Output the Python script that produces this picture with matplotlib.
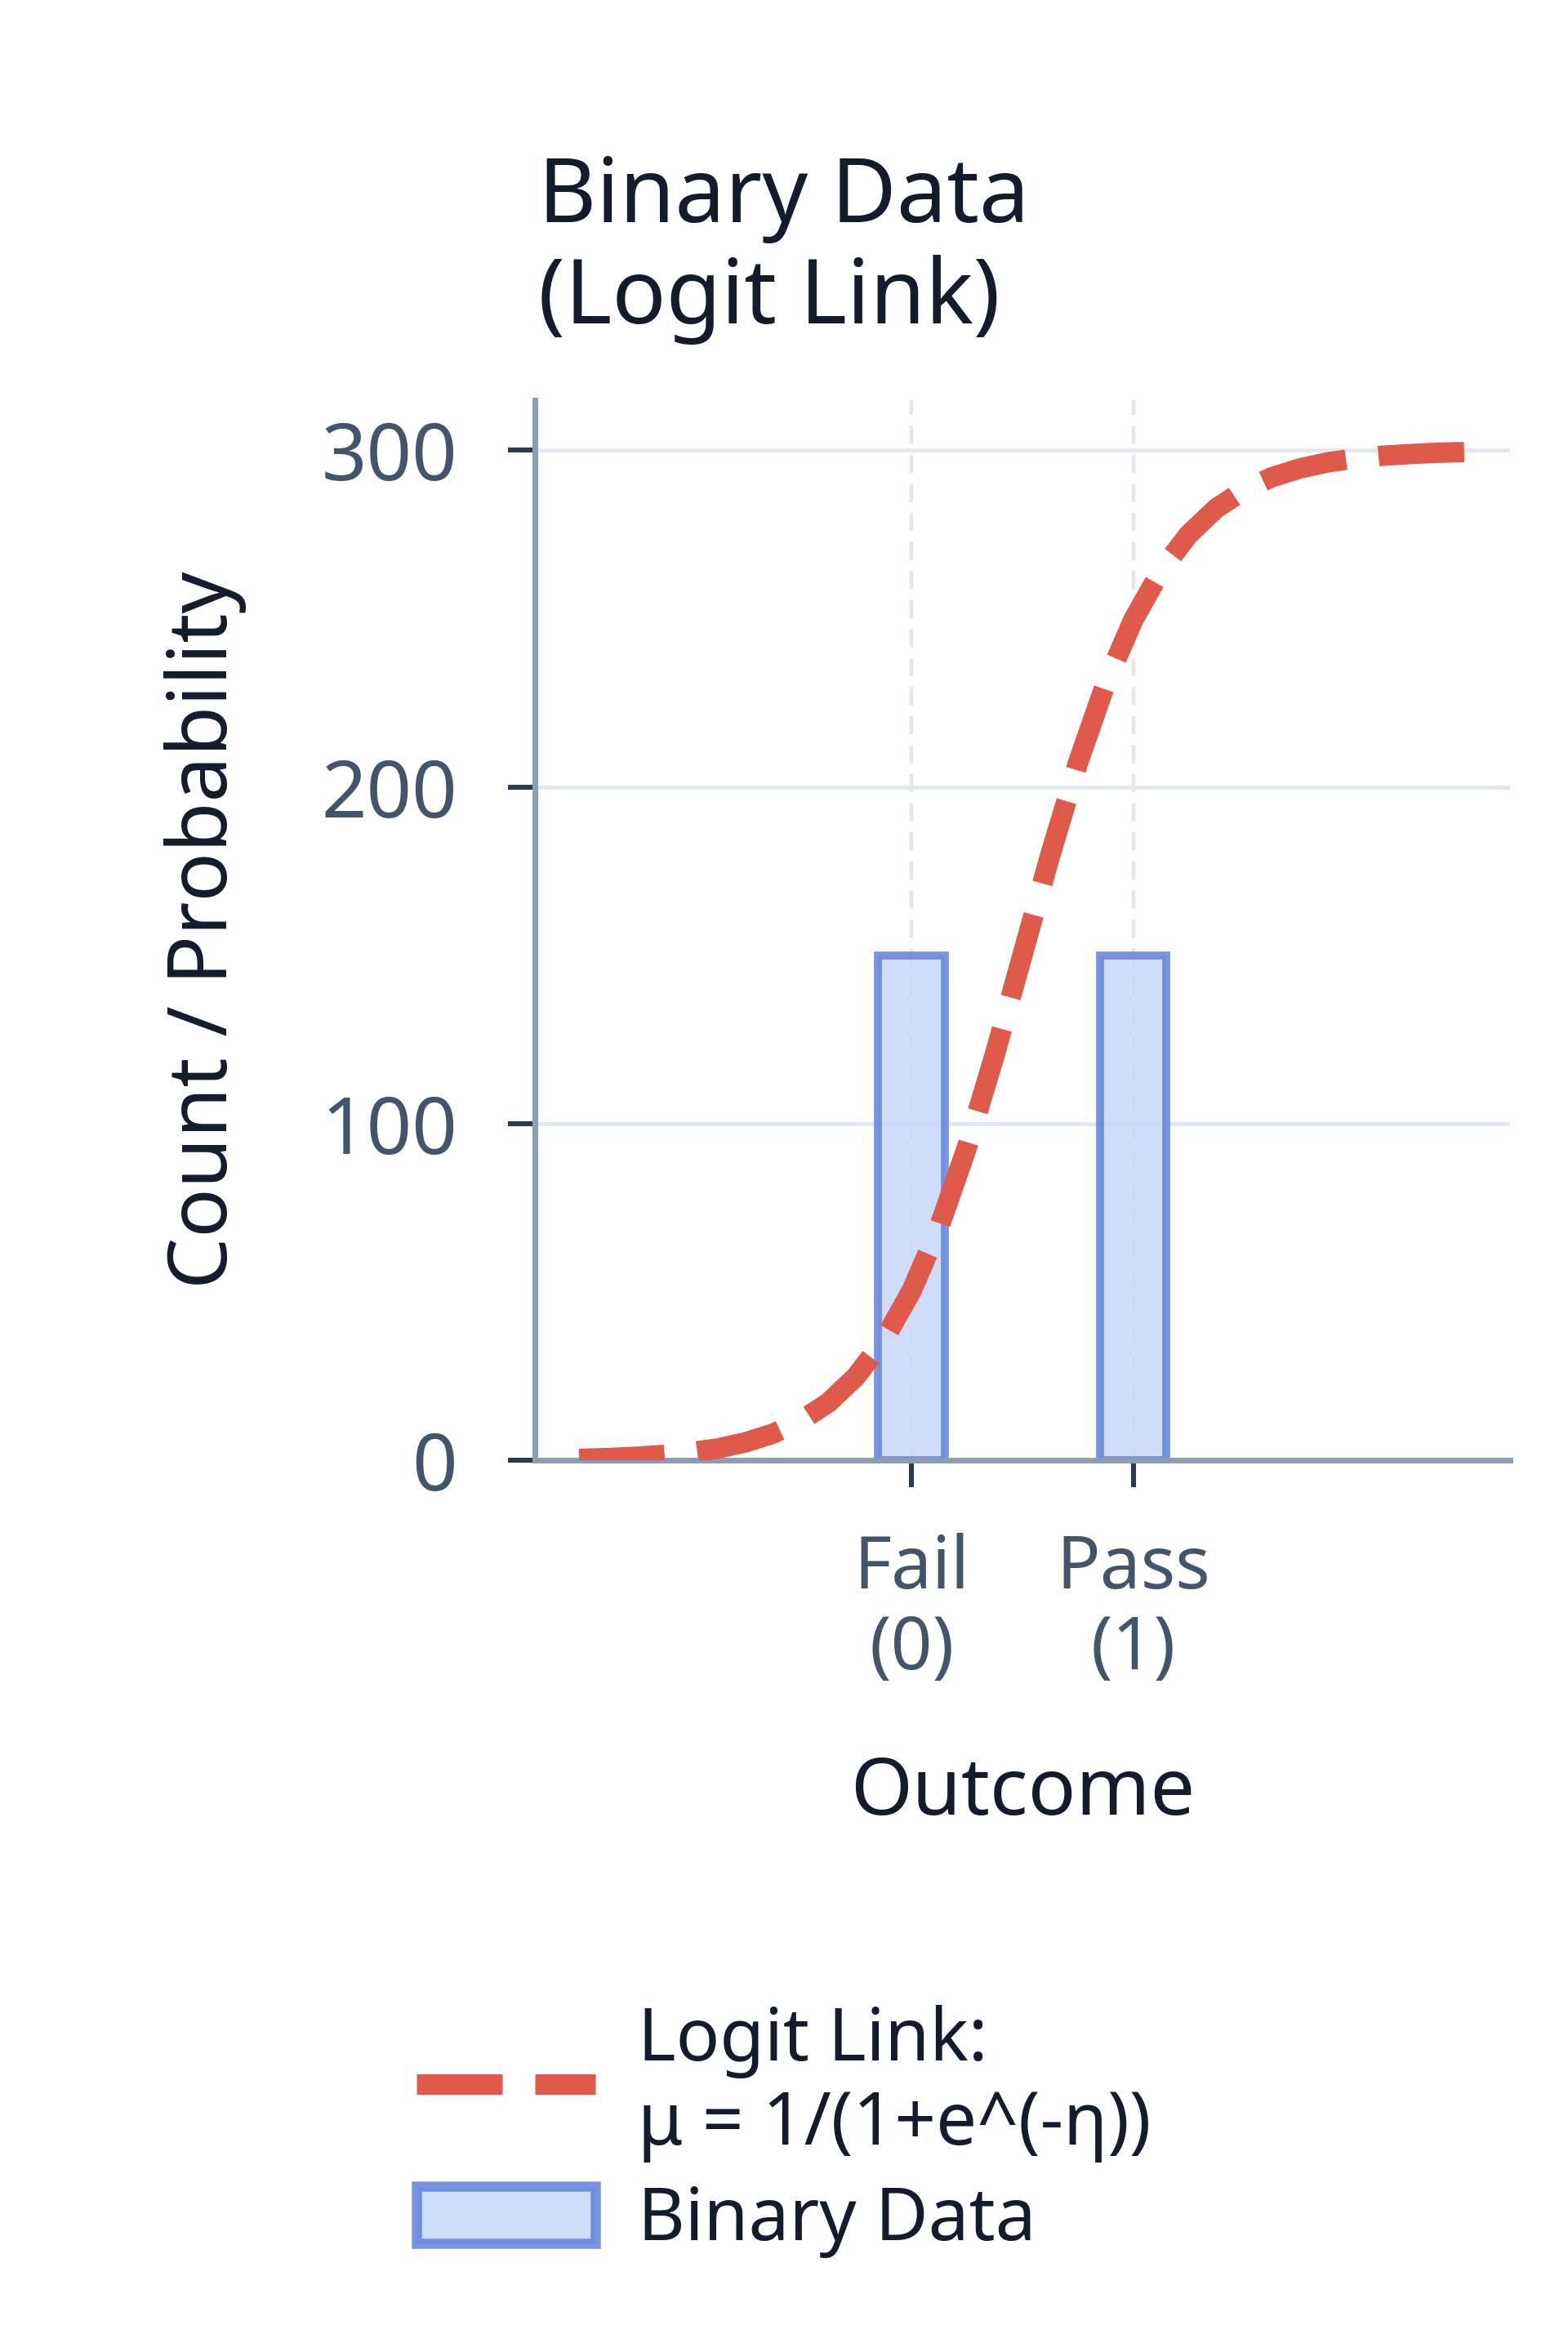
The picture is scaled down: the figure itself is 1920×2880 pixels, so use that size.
import numpy as np
import matplotlib.pyplot as plt

plt.rcParams['font.family'] = ['Noto Sans', 'DejaVu Sans']

# datos
outcomes = [0, 1]
outcome_labels = ["Fail\n(0)", "Pass\n(1)"]
counts = [150, 150]

eta_x = [-1.5, -1.375, -1.25, -1.125, -1.0, -0.875, -0.75, -0.625, -0.5,
         -0.375, -0.25, -0.125, 0.0, 0.125, 0.25, 0.375, 0.5, 0.625, 0.75,
         0.875, 1.0, 1.125, 1.25, 1.375, 1.5, 1.625, 1.75, 1.875, 2.0,
         2.125, 2.25, 2.375, 2.5]
mu_y = [0.5, 0.74, 1.1, 1.65, 2.45, 3.6, 5.4, 8.0, 11.8, 17.2, 25.0, 35.8,
        50.4, 69.4, 93.0, 120.4, 150.0, 179.6, 207.0, 230.6, 249.6, 264.2,
        275.0, 282.8, 288.2, 292.0, 294.6, 296.4, 297.6, 298.4, 298.9,
        299.3, 299.5]

yticks = [0, 100, 200, 300]

axis_col = "#8b9db5"
tick_col = "#2d3b4e"
label_col = "#44546a"
text_col = "#141b2b"
grid_col = "#e3e8f0"
red = "#e05a4b"

fig = plt.figure(figsize=(9.6, 14.4), dpi=200)
ax = fig.add_axes([0.341, 0.379, 0.622, 0.451])

ax.bar(outcomes, counts, width=0.3, facecolor="#c8d7fa", alpha=0.85,
       edgecolor="#6282db", linewidth=3.5, label="Binary Data", zorder=2)
ax.plot(eta_x, mu_y, color=red, linewidth=9, dashes=(4.2, 1.6),
        dash_capstyle="butt", label="Logit Link:\nμ = 1/(1+e^(-η))", zorder=3)

ax.set_xlim(-1.7, 2.7)
ax.set_ylim(0, 315)
ax.set_xticks(outcomes)
ax.set_xticklabels(outcome_labels, linespacing=1.12)
ax.set_yticks(yticks)

ax.yaxis.grid(True, color=grid_col, linewidth=1.8, linestyle="-")
ax.xaxis.grid(True, color=grid_col, linewidth=1.6, linestyle=(0, (5, 3)))
ax.set_axisbelow(True)

for s in ["top", "right"]:
    ax.spines[s].set_visible(False)
for s in ["left", "bottom"]:
    ax.spines[s].set_color(axis_col)
    ax.spines[s].set_linewidth(2.5)

ax.tick_params(axis="both", direction="out", length=12, width=2.2,
               color=tick_col, labelcolor=label_col, labelsize=32)
ax.tick_params(axis="y", pad=22, labelsize=35)
ax.tick_params(axis="x", pad=20)

ax.set_xlabel("Outcome", fontsize=35, color=text_col)
ax.set_ylabel("Count / Probability", fontsize=36, color=text_col)
ax.xaxis.set_label_coords(0.5, -0.2765)
ax.yaxis.set_label_coords(-0.295, 0.5)

fig.text(0.343, 0.9055, "Binary Data", fontsize=39.5, color=text_col,
         ha="left", va="baseline")
fig.text(0.343, 0.8625, "(Logit Link)", fontsize=39.5, color=text_col,
         ha="left", va="baseline")

leg = fig.legend(loc="upper left", bbox_to_anchor=(0.2655, 0.1477),
                 frameon=False, fontsize=32, borderpad=0, borderaxespad=0,
                 handlelength=2.47, handleheight=0.84, handletextpad=0.58,
                 labelspacing=0.3, labelcolor=text_col)
leg.legend_handles[1].set_linewidth(4.5)

fig.savefig("out.png", dpi=200, facecolor="white")
